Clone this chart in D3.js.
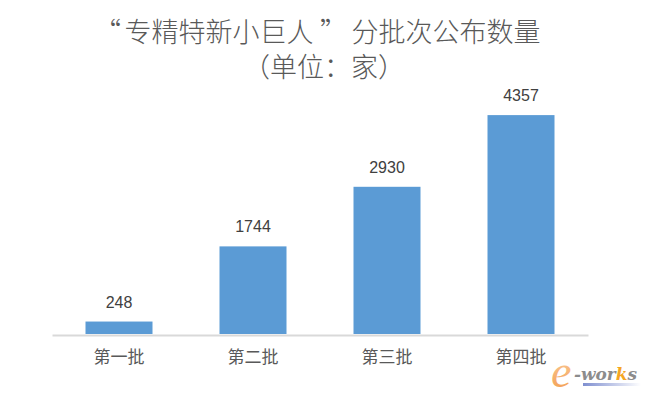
<!DOCTYPE html>
<html><head><meta charset="utf-8">
<script src="https://cdn.jsdelivr.net/npm/d3@7"></script>
<style>body{margin:0;background:#fff}svg{display:block}</style>
</head><body>
<svg id="c" width="648" height="398"></svg>
<script>
const categories = ["第一批", "第二批", "第三批", "第四批"];
const values = [248, 1744, 2930, 4357];
const titleParts = ["“", "专精特新小巨人", "”", "分批次公布数量"];
const subtitle = "（单位：家）";

const svg = d3.select("#c");
const W = 648, H = 398;
const x = d3.scaleBand().domain(categories).range([52, 588]).paddingInner(0.5).paddingOuter(0.25);
const y = d3.scaleLinear().domain([0, 5000]).range([334, 82.8]);

svg.append("rect").attr("width", W).attr("height", H).attr("fill", "#fff");

const cjk = "'Noto Sans CJK SC', 'Noto Sans', sans-serif";

const partX = [94, 124.5, 320, 351.5];
const t1 = svg.append("text").attr("y", 41.5)
  .attr("font-family", cjk).attr("font-size", 27).attr("font-weight", 300)
  .attr("fill", "#595959");
t1.selectAll("tspan").data(titleParts).enter().append("tspan")
  .attr("x", (d, i) => partX[i]).text(d => d);

svg.append("text").attr("x", 324).attr("y", 77)
  .attr("text-anchor", "middle")
  .attr("font-family", cjk).attr("font-size", 27).attr("font-weight", 300)
  .attr("fill", "#595959").text(subtitle);

svg.selectAll("rect.bar").data(values).enter().append("rect")
  .attr("class", "bar")
  .attr("x", (d, i) => x(categories[i]))
  .attr("width", x.bandwidth())
  .attr("y", d => y(d))
  .attr("height", d => y(0) - y(d))
  .attr("fill", "#5b9bd5");

svg.selectAll("text.val").data(values).enter().append("text")
  .attr("class", "val")
  .attr("x", (d, i) => x(categories[i]) + x.bandwidth() / 2)
  .attr("y", d => y(d) - 14)
  .attr("text-anchor", "middle")
  .attr("font-family", "'Liberation Sans', Arial, sans-serif").attr("font-size", 16)
  .attr("fill", "#404040")
  .text(d => d);

const axis = d3.axisBottom(x).tickSize(0).tickPadding(16);
const g = svg.append("g").attr("transform", `translate(0,${y(0) + 1})`).call(axis);
g.select(".domain").attr("stroke", "#d9d9d9").attr("stroke-width", 2);
g.selectAll(".tick text")
  .attr("font-family", cjk).attr("font-size", 17)
  .attr("fill", "#595959");

// e-works logo
const defs = svg.append("defs");
const lg = defs.append("linearGradient").attr("id", "lg");
lg.selectAll("stop").data([["0%", "#7f8fd0"], ["100%", "#ffffff"]]).enter().append("stop")
  .attr("offset", d => d[0]).attr("stop-color", d => d[1]);
const eg = defs.append("linearGradient").attr("id", "eg").attr("x1", 0).attr("y1", 0).attr("x2", 0).attr("y2", 1);
eg.selectAll("stop").data([["0%", "#fbd3a8"], ["100%", "#f29a4a"]]).enter().append("stop")
  .attr("offset", d => d[0]).attr("stop-color", d => d[1]);

svg.append("rect").attr("x", 583).attr("y", 383).attr("width", 58).attr("height", 3).attr("fill", "url(#lg)");
svg.append("text").attr("x", 551).attr("y", 387)
  .attr("font-family", "'Liberation Serif', serif").attr("font-style", "italic")
  .attr("font-size", 46).attr("fill", "url(#eg)").text("e");
const lt = svg.append("text").attr("x", 574).attr("y", 380)
  .attr("font-family", "'DejaVu Serif', serif").attr("font-style", "italic").attr("font-weight", "bold")
  .attr("font-size", 17).attr("textLength", 63).attr("lengthAdjust", "spacingAndGlyphs");
lt.append("tspan").attr("fill", "#8c8c8c").text("-wor");
lt.append("tspan").attr("fill", "#f5a623").text("k");
lt.append("tspan").attr("fill", "#8c8c8c").text("s");
</script>
</body></html>
